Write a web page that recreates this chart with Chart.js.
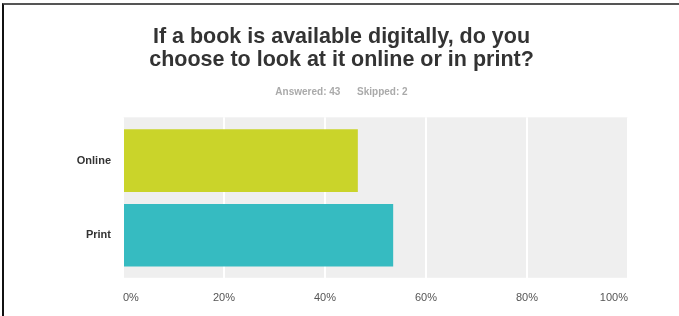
<!DOCTYPE html>
<html>
<head>
<meta charset="utf-8">
<script src="https://cdn.jsdelivr.net/npm/chart.js@4/dist/chart.umd.min.js"></script>
<style>
  body { margin: 0; background: #fff; }
  #wrap { position: relative; width: 679px; height: 316px; }
  #frame { position: absolute; left: 2px; top: 3px; right: 0; bottom: 0;
           border-top: 2px solid #555; border-left: 2px solid #111; pointer-events: none; }
</style>
</head>
<body>
<div id="wrap">
  <canvas id="chart" width="679" height="316"></canvas>
  <div id="frame"></div>
</div>
<script>
var categories = ["Online", "Print"];
var percentValues = [46.5, 53.5];
var barColors = ["#cad42a", "#36bbc1"];
var xTicks = [0, 20, 40, 60, 80, 100];

var titleLines = ["If a book is available digitally, do you", "choose to look at it online or in print?"];
var subtitleText = "Answered: 43      Skipped: 2";

// grey plot background behind the bars
var plotBackground = {
    id: "plotBackground",
    beforeDraw: function (chart) {
        var a = chart.chartArea;
        var ctx = chart.ctx;
        ctx.save();
        ctx.fillStyle = "#efefef";
        ctx.fillRect(a.left, a.top, a.right - a.left, a.bottom - a.top);
        ctx.restore();
    }
};

window.addEventListener("load", function () {
    var ctx = document.getElementById("chart");
    // one point per category, category index on the y axis
    var points = percentValues.map(function (v, i) { return { x: v, y: i }; });

    new Chart(ctx, {
        type: "bar",
        data: {
            datasets: [{
                data: points,
                backgroundColor: barColors,
                borderWidth: 0,
                barPercentage: 0.84,
                categoryPercentage: 1
            }]
        },
        plugins: [plotBackground],
        options: {
            indexAxis: "y",
            responsive: false,
            animation: false,
            layout: { padding: { top: 25, right: 51, bottom: -3, left: 55 } },
            plugins: {
                legend: { display: false },
                tooltip: { enabled: false },
                title: {
                    display: true,
                    text: titleLines,
                    color: "#333",
                    font: { family: "Liberation Sans", size: 21.5, weight: "bold", lineHeight: 1.1 },
                    padding: { top: 0, bottom: 14 }
                },
                subtitle: {
                    display: true,
                    text: subtitleText,
                    color: "#aaa",
                    font: { family: "Liberation Sans", size: 10, weight: "bold" },
                    padding: { top: 0, bottom: 19 }
                }
            },
            scales: {
                x: {
                    type: "linear",
                    min: 0,
                    max: 100,
                    afterBuildTicks: function (axis) {
                        axis.ticks = xTicks.map(function (v) { return { value: v }; });
                    },
                    ticks: {
                        callback: function (v) { return v + "%"; },
                        color: "#555",
                        font: { family: "Liberation Sans", size: 11 },
                        padding: 14,
                        align: "inner",
                        maxRotation: 0
                    },
                    grid: { color: "#fff", lineWidth: 2, drawTicks: false },
                    border: { display: false }
                },
                y: {
                    type: "linear",
                    reverse: true,
                    offset: false,
                    // equal gaps above, between and below the bars
                    min: -0.58,
                    max: 1.57,
                    afterBuildTicks: function (axis) {
                        axis.ticks = categories.map(function (c, i) { return { value: i }; });
                    },
                    afterFit: function (axis) { axis.width = 68; },
                    ticks: {
                        callback: function (v) { return categories[v]; },
                        color: "#333",
                        font: { family: "Liberation Sans", size: 11, weight: "bold" },
                        padding: 12
                    },
                    grid: { display: false, drawTicks: false },
                    border: { display: false }
                }
            }
        }
    });
});
</script>
</body>
</html>
